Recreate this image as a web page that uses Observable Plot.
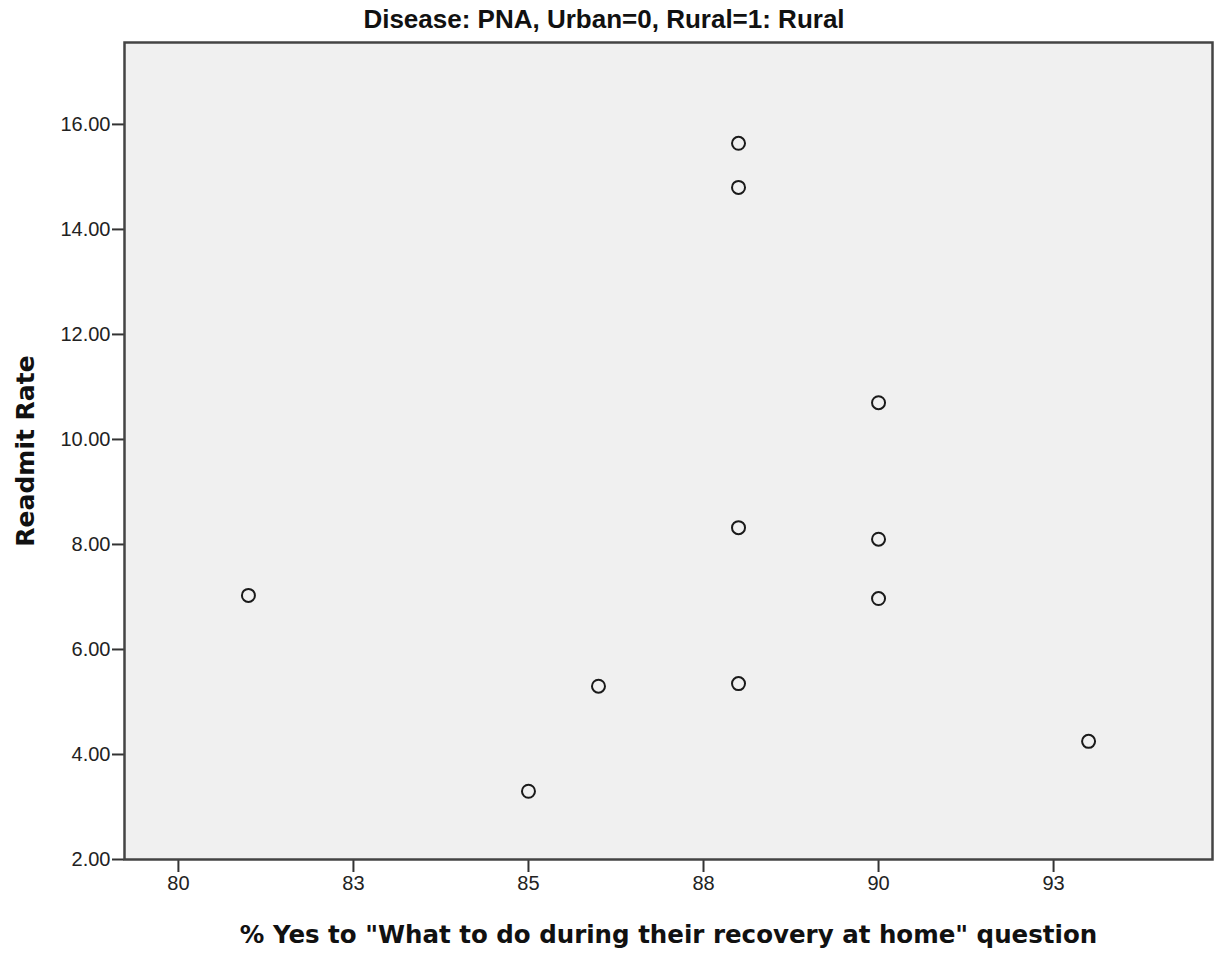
<!DOCTYPE html>
<html>
<head>
<meta charset="utf-8">
<script src="https://cdn.jsdelivr.net/npm/d3@7"></script>
<script src="https://cdn.jsdelivr.net/npm/@observablehq/plot@0.6"></script>
<style>
  html, body { margin: 0; padding: 0; background: #ffffff; }
  #wrap { position: relative; width: 1216px; height: 953px; }
  #title { position: absolute; top: 4px; left: -4px; width: 1216px; text-align: center;
           font-family: "Liberation Sans", Arial, sans-serif; font-weight: bold; font-size: 26px; color: #111; }
  svg { display: block; }
</style>
</head>
<body>
<div id="wrap">
  <div id="title">Disease: PNA, Urban=0, Rural=1: Rural</div>
  <div id="chart"></div>
</div>
<script>
// % Yes to "What to do during their recovery at home" question
const pctYes = [81, 85, 86, 88, 88, 88, 88, 90, 90, 90, 93];
// Readmit Rate
const readmitRate = [7.03, 3.30, 5.30, 15.64, 14.80, 8.32, 5.35, 10.70, 8.10, 6.97, 4.25];

const xTicks = [80, 82.5, 85, 87.5, 90, 92.5];
const xTickLabels = ["80", "83", "85", "88", "90", "93"];
const yTicks = [2, 4, 6, 8, 10, 12, 14, 16];
const yTickLabels = ["2.00", "4.00", "6.00", "8.00", "10.00", "12.00", "14.00", "16.00"];

const xLabel = "% Yes to \"What to do during their recovery at home\" question";
const yLabel = "Readmit Rate";

const data = pctYes.map((x, i) => ({x, y: readmitRate[i]}));

const chart = Plot.plot({
  width: 1216,
  height: 953,
  marginLeft: 124,
  marginRight: 4,
  marginTop: 42,
  marginBottom: 94,
  style: {fontFamily: "'Liberation Sans', Arial, sans-serif", background: "#ffffff", color: "#222"},
  x: {domain: [79.23, 94.77]},
  y: {domain: [2, 17.56]},
  marks: [
    Plot.frame({fill: "#f0f0f0"}),
    Plot.axisX({ticks: xTicks, tickFormat: (d) => xTickLabels[xTicks.indexOf(d)], tickSize: 13, tickPadding: 3,
                fontSize: 20, label: null, stroke: "#333", strokeWidth: 2}),
    Plot.axisY({ticks: yTicks, tickFormat: (d) => yTickLabels[yTicks.indexOf(d)], tickSize: 12, tickPadding: 2,
                fontSize: 20, label: null, stroke: "#333", strokeWidth: 2}),
    Plot.frame({stroke: "#444", strokeWidth: 2.5}),
    Plot.dot(data, {x: "x", y: "y", r: 6.5, stroke: "#1a1a1a", strokeWidth: 2, fill: "none"}),
    Plot.text([xLabel], {frameAnchor: "bottom", dy: 76, text: (d) => d, fontSize: 24.5, fontWeight: "bold",
                         fontFamily: "'DejaVu Sans', Verdana, sans-serif", fill: "#111", lineAnchor: "middle", textAnchor: "middle"}),
    Plot.text([yLabel], {frameAnchor: "left", dx: -99, rotate: -90, text: (d) => d, fontSize: 25, fontWeight: "bold",
                         fontFamily: "'DejaVu Sans', Verdana, sans-serif", fill: "#111", lineAnchor: "middle", textAnchor: "middle"})
  ]
});
document.getElementById("chart").appendChild(chart);
</script>
</body>
</html>
